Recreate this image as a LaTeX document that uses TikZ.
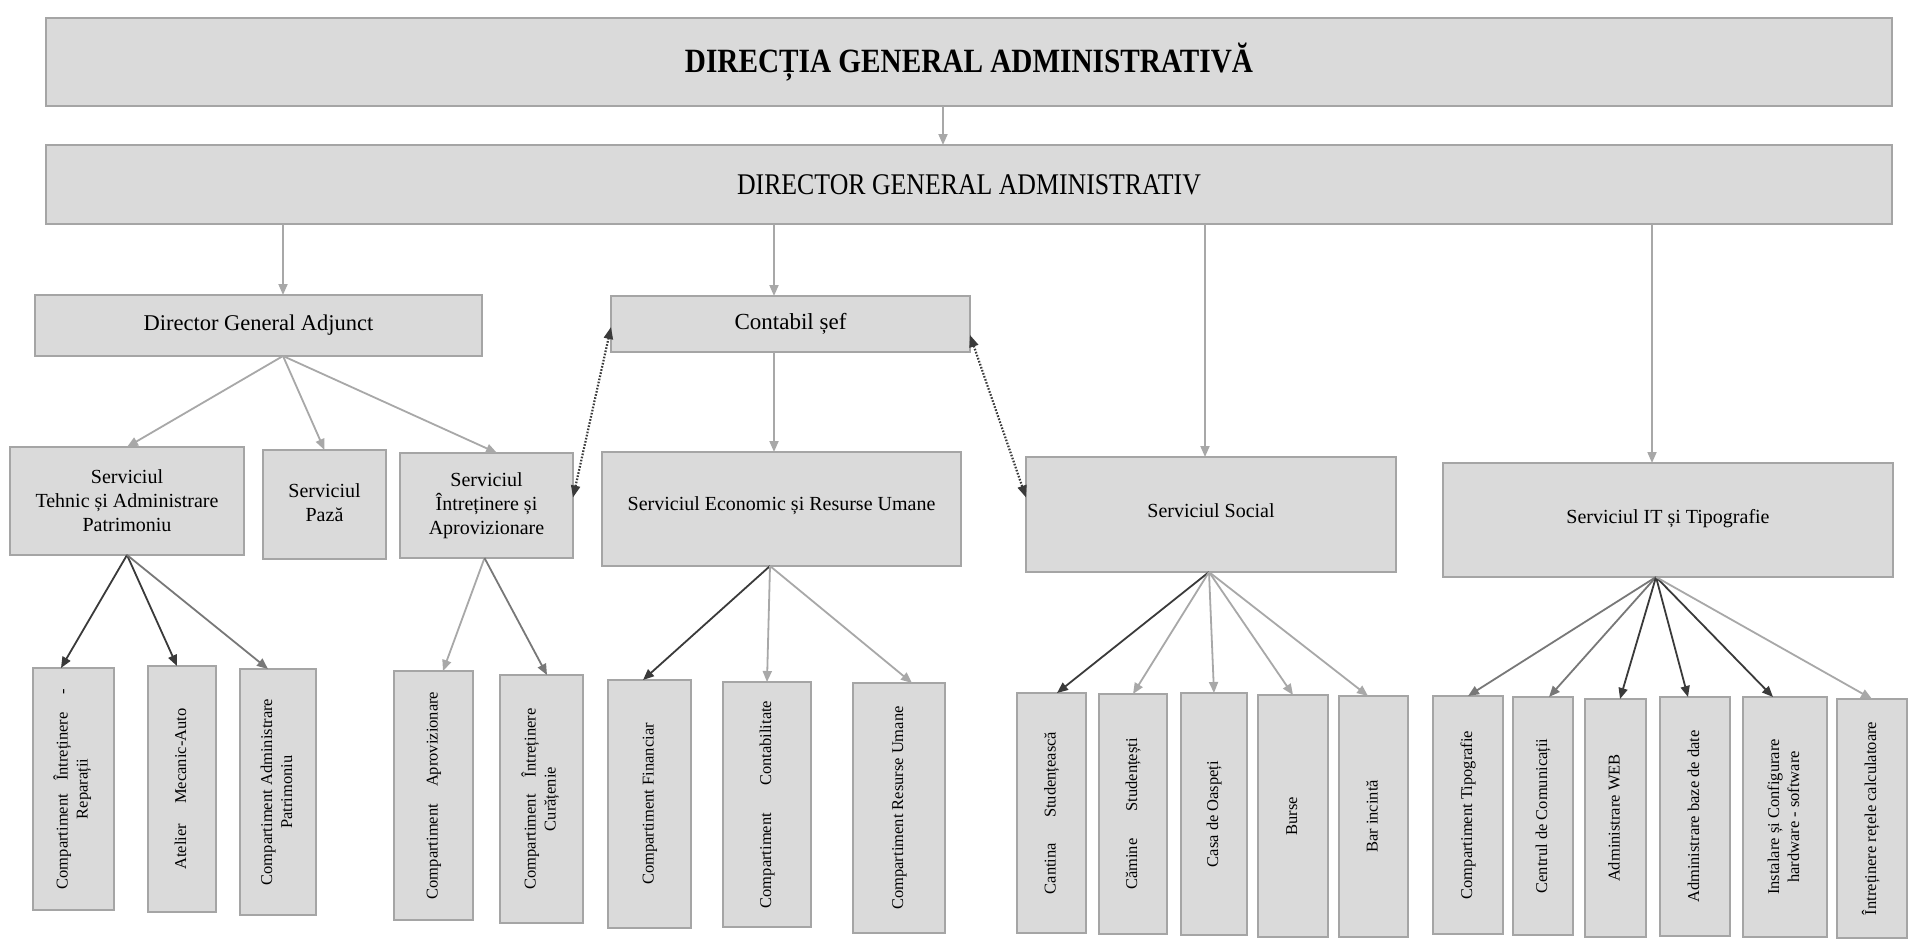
\documentclass[tikz,border=0pt]{standalone}
\usepackage{fontspec}
\usepackage{graphicx}
\setmainfont{Liberation Serif}
\newfontfamily\condfont{Liberation Serif}[FakeStretch=0.86]
\usetikzlibrary{arrows.meta}
\definecolor{boxfill}{HTML}{DADADA}
\definecolor{boxline}{HTML}{A5A5A5}
\definecolor{arrgray}{HTML}{A8A8A8}
\definecolor{arrdark}{HTML}{3A3A3A}
\definecolor{arrmid}{HTML}{787878}
\newcommand\bx[7]{\node[#7, minimum width={(#4)-(#2)}, minimum height={(#5)-(#3)}] (#1) at ({((#2)+(#4))/2},{((#3)+(#5))/2}) {#6};}
\newcommand\vt[1]{\rotatebox{90}{\begin{tabular}{@{}c@{}}#1\end{tabular}}}
\newcommand\gap[1]{\hspace{#1pt}}
\tikzset{
  box/.style={draw=boxline, fill=boxfill, line width=2pt, inner sep=0pt, outer sep=0pt, align=center},
  lthree/.style={box, font=\fontsize{20}{24}\selectfont},
  vbox/.style={box, font=\fontsize{16.5}{20}\selectfont},
  arr/.style={color=arrgray, line width=1.8pt, -{Triangle[length=11pt,width=9pt]}},
  arrd/.style={arr, color=arrdark},
  arrm/.style={arr, color=arrmid},
  dotarr/.style={color=arrdark, line width=2.2pt, dash pattern=on 1.6pt off 1.6pt, {Triangle[length=12pt,width=9pt]}-{Triangle[length=12pt,width=9pt]}}
}
\begin{document}
\begin{tikzpicture}[x=1pt,y=-1pt]
\useasboundingbox[fill=white] (0,0) rectangle (1909,942);

% top levels
\bx{top}{46}{18}{1892}{106}{DIRECȚIA GENERAL ADMINISTRATIVĂ}{box, font=\fontsize{34}{40}\condfont\bfseries}
\bx{dir}{46}{145}{1892}{224}{DIRECTOR GENERAL ADMINISTRATIV}{box, font=\fontsize{30}{36}\condfont}

% level 2
\bx{dga}{35}{295}{482}{356}{Director General Adjunct}{box, font=\fontsize{22.5}{27}\selectfont}
\bx{cs}{611}{296}{970}{352}{Contabil șef}{box, font=\fontsize{23}{27}\selectfont}

% level 3
\bx{stap}{10}{447}{244}{555}{Serviciul\\Tehnic și Administrare\\Patrimoniu}{lthree}
\bx{paza}{263}{450}{386}{559}{\raisebox{14pt}{\begin{tabular}{@{}c@{}}Serviciul\\Pază\end{tabular}}}{lthree}
\bx{sia}{400}{453}{573}{558}{Serviciul\\Întreținere și\\Aprovizionare}{lthree}
\bx{seru}{602}{452}{961}{566}{\raisebox{10pt}{Serviciul Economic și Resurse Umane}}{lthree}
\bx{soc}{1026}{457}{1396}{572}{\raisebox{8pt}{Serviciul Social}}{lthree}
\bx{it}{1443}{463}{1893}{577}{\raisebox{8pt}{Serviciul IT și Tipografie}}{lthree}

% level 4
\bx{cir}{33}{668}{114}{910}{\vt{Compartiment\gap{13}Întreținere\gap{18}-\\Reparații}}{vbox}
\bx{ate}{148}{666}{216}{912}{\vt{Atelier\gap{20}Mecanic-Auto}}{vbox}
\bx{cap}{240}{669}{316}{915}{\vt{Compartiment Administrare\\Patrimoniu}}{vbox}
\bx{apr}{394}{671}{473}{920}{\vt{Compartiment\gap{17}Aprovizionare}}{vbox}
\bx{cur}{500}{675}{583}{923}{\vt{Compartiment\gap{17}Întreținere\\Curățenie}}{vbox}
\bx{fin}{608}{680}{691}{928}{\vt{Compartiment Financiar}}{vbox}
\bx{con}{723}{682}{811}{927}{\vt{Compartiment\gap{27}Contabilitate}}{vbox}
\bx{ru}{853}{683}{945}{933}{\vt{Compartiment Resurse Umane}}{vbox}
\bx{can}{1017}{693}{1086}{933}{\vt{Cantina\gap{25}Studențească}}{vbox}
\bx{cam}{1099}{694}{1167}{934}{\vt{Cămine\gap{27}Studențești}}{vbox}
\bx{cas}{1181}{693}{1247}{935}{\vt{Casa de Oaspeți}}{vbox}
\bx{bur}{1258}{695}{1328}{937}{\vt{Burse}}{vbox}
\bx{bar}{1339}{696}{1408}{937}{\vt{Bar incintă}}{vbox}
\bx{tip}{1433}{696}{1503}{934}{\vt{Compartiment Tipografie}}{vbox}
\bx{cen}{1513}{697}{1573}{935}{\vt{Centrul de Comunicații}}{vbox}
\bx{web}{1585}{699}{1646}{937}{\vt{Administrare WEB}}{vbox}
\bx{baz}{1660}{697}{1730}{936}{\vt{Administrare baze de date}}{vbox}
\bx{ins}{1743}{697}{1827}{937}{\vt{Instalare și Configurare\\hardware - software}}{vbox}
\bx{ret}{1837}{699}{1907}{938}{\vt{Întreținere rețele calculatoare}}{vbox}

% vertical connectors
\draw[arr] ([xshift=-26pt]top.south) -- ([xshift=-26pt]dir.north);
\draw[arr] ([xshift=-686pt]dir.south) -- ([xshift=24.5pt]dga.north);
\draw[arr] ([xshift=-195pt]dir.south) -- ([xshift=-16.5pt]cs.north);
\draw[arr] ([xshift=236pt]dir.south) -- ([xshift=-6pt]soc.north);
\draw[arr] ([xshift=683pt]dir.south) -- ([xshift=-16pt]it.north);
\draw[arr] ([xshift=-16.5pt]cs.south) -- ([xshift=-7.5pt]seru.north);

% DGA fan
\draw[arr] ([xshift=24.5pt]dga.south) -- (stap.north);
\draw[arr] ([xshift=24.5pt]dga.south) -- (paza.north);
\draw[arr] ([xshift=24.5pt]dga.south) -- ([xshift=10.5pt]sia.north);

% dotted links
\draw[dotarr] ([yshift=8pt]sia.east) -- ([yshift=-3pt]cs.west);
\draw[dotarr] ([yshift=-11pt]cs.east) -- ([yshift=17pt]soc.west);

% STAP fan
\draw[arrd] (stap.south) -- ([xshift=-12.5pt]cir.north);
\draw[arrd] (stap.south) -- ([xshift=-5pt]ate.north);
\draw[arrm] (stap.south) -- ([xshift=-10pt]cap.north);

% SIA fan
\draw[arr] ([xshift=-2pt]sia.south) -- ([xshift=9.5pt]apr.north);
\draw[arrm] ([xshift=-2pt]sia.south) -- ([xshift=5.5pt]cur.north);

% SERU fan
\draw[arrd] ([xshift=-11.5pt]seru.south) -- ([xshift=-6.5pt]fin.north);
\draw[arr] ([xshift=-11.5pt]seru.south) -- (con.north);
\draw[arr] ([xshift=-11.5pt]seru.south) -- ([xshift=13pt]ru.north);

% Social fan
\draw[arrd] ([xshift=-2pt]soc.south) -- ([xshift=5.5pt]can.north);
\draw[arr] ([xshift=-2pt]soc.south) -- (cam.north);
\draw[arr] ([xshift=-2pt]soc.south) -- (cas.north);
\draw[arr] ([xshift=-2pt]soc.south) -- (bur.north);
\draw[arr] ([xshift=-2pt]soc.south) -- ([xshift=-5.5pt]bar.north);

% IT fan
\draw[arrm] ([xshift=-12pt]it.south) -- (tip.north);
\draw[arrm] ([xshift=-12pt]it.south) -- ([xshift=6pt]cen.north);
\draw[arrd] ([xshift=-12pt]it.south) -- ([xshift=4.5pt]web.north);
\draw[arrd] ([xshift=-12pt]it.south) -- ([xshift=-7pt]baz.north);
\draw[arrd] ([xshift=-12pt]it.south) -- ([xshift=-12pt]ins.north);
\draw[arr] ([xshift=-12pt]it.south) -- (ret.north);
\end{tikzpicture}
\end{document}
